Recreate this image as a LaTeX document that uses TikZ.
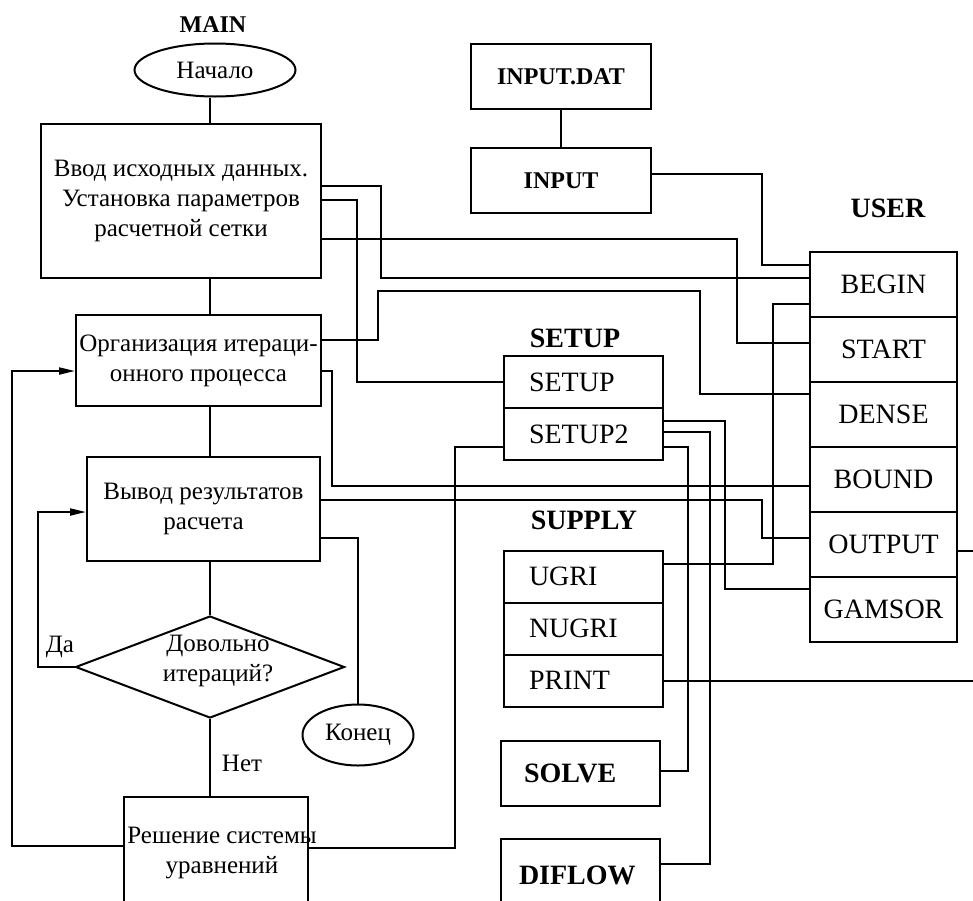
\documentclass[tikz,border=0pt]{standalone}
\usepackage{fontspec}
\setmainfont{Liberation Serif}
\usetikzlibrary{arrows.meta,calc,positioning,shapes.geometric}

\begin{document}
\begin{tikzpicture}[x=0.5pt, y=-0.5pt, line width=1pt, >={Triangle[length=8pt,width=3.5pt]},
    ru/.style={font=\fontsize{12.5}{15}\selectfont, align=center},
    box/.style={rectangle, draw, inner sep=0pt, ru},
    oval/.style={ellipse, draw, inner sep=0pt, ru},
    hdrsmall/.style={font=\fontsize{12}{14}\selectfont\bfseries},
    hdr/.style={font=\fontsize{14}{16}\selectfont\bfseries},
    cell/.style={rectangle, draw, inner sep=0pt, outer sep=0pt, inner xsep=12.5pt, text width=54.5pt, minimum height=26pt, align=left, font=\fontsize{14}{16}\selectfont},
    ucell/.style={rectangle, draw, inner sep=0pt, outer sep=0pt, minimum width=73.5pt, minimum height=32.5pt, font=\fontsize{14}{16}\selectfont}]
    \path[use as bounding box, clip] (0,0) rectangle (973,900);

    \node[hdrsmall] (mainlbl) at (213,25) {MAIN};
    \node[oval, minimum width=80.5pt, minimum height=26.5pt] (top) at (215,70) {Начало};
    \node[box, minimum width=140pt, minimum height=77pt] (inp) at (181,201) {Ввод исходных данных.\\Установка параметров\\расчетной сетки};
    \node[box, minimum width=122.5pt, minimum height=45.5pt] (iter) at (198.5,360.5) {Организация итераци-\\онного процесса};
    \node[box, minimum width=116.5pt, minimum height=52pt] (res) at (203.5,509) {Вывод результатов\\расчета};
    \node[diamond, draw, inner sep=0pt, minimum width=134.5pt, minimum height=51pt,
        label={[ru, xshift=4pt, yshift=3pt]center:Довольно\\итераций?}] (ask) at (210,667) {};
    \node[box, minimum width=92pt, minimum height=54pt,
        label={[ru, xshift=3pt, yshift=-1pt]center:Решение системы\\уравнений}] (sys) at (216,851) {};
    \node[oval, minimum width=55.5pt, minimum height=30.5pt] (stop) at (358,735) {Конец};
    \node[ru] (yes) at (60,647) {Да};
    \node[ru] (no) at (242,763) {Нет};

    \node[box, hdrsmall, minimum width=90pt, minimum height=32.5pt] (idat) at (561,76.5) {INPUT.DAT};
    \node[box, hdrsmall, minimum width=90pt, minimum height=32.5pt] (input) at (561,180.5) {INPUT};

    \node[hdr] (userlbl) at (888,208) {USER};
    \node[ucell] (ubegin) at (883.5,284.5) {BEGIN};
    \node[ucell, below=0pt of ubegin] (ustart) {START};
    \node[ucell, below=0pt of ustart] (udense) {DENSE};
    \node[ucell, below=0pt of udense] (ubound) {BOUND};
    \node[ucell, below=0pt of ubound] (uoutput) {OUTPUT};
    \node[ucell, below=0pt of uoutput] (ugamsor) {GAMSOR};

    \node[hdr] (setuplbl) at (575,338) {SETUP};
    \node[cell] (setup) at (583.5,382) {SETUP};
    \node[cell, below=0pt of setup] (setupb) {SETUP2};

    \node[hdr] (supplylbl) at (584,520) {SUPPLY};
    \node[cell] (ugri) at (583.5,576.5) {UGRI};
    \node[cell, below=0pt of ugri] (nugri) {NUGRI};
    \node[cell, below=0pt of nugri] (print) {PRINT};

    \node[cell, font=\fontsize{14}{16}\selectfont\bfseries, inner xsep=11.5pt, text width=56.5pt, minimum height=32.5pt] (solve) at (580.5,773.5) {SOLVE};
    \node[cell, font=\fontsize{14}{16}\selectfont\bfseries, inner xsep=9pt, text width=61.5pt, minimum height=36pt] (diflow) at (580.5,875) {DIFLOW};

    \draw (top.south -| ask) -- (inp.north -| ask);
    \draw (inp.south -| ask) -- (iter.north -| ask);
    \draw (iter.south -| ask) -- (res.north -| ask);
    \draw (res.south -| ask) -- (ask.north);
    \draw (ask.south) -- (ask.south |- sys.north);
    \draw[->] (ask.west) -| (38,512) -- (res.west |- 0,512);
    \draw[->] (sys.west |- 0,846) -| (12,371) -- (iter.west |- 0,371);
    \draw (sys.east |- 0,848) -| (455,447) -- (setupb.west |- 0,447);
    \draw (res.east |- 0,538) -| (stop.north);

    \draw (idat) -- (input);
    \draw (input.east |- 0,174) -| (762,265) -- (ubegin.west |- 0,265);
    \draw (inp.east |- 0,186) -| (381,278) -- (ubegin.west |- 0,278);
    \draw (inp.east |- 0,200) -| (357,382) -- (setup.west |- 0,382);
    \draw (inp.east |- 0,239) -| (737,343) -- (ustart.west |- 0,343);
    \draw (iter.east |- 0,340) -| (378,291) -| (700,394) -- (udense.west |- 0,394);
    \draw (iter.east |- 0,371) -| (332,486) -- (ubound.west |- 0,486);
    \draw (res.east |- 0,500) -| (762,538) -- (uoutput.west |- 0,538);
    \draw (ugri.east |- 0,564) -| (773,304) -- (ubegin.west |- 0,304);
    \draw (setupb.east |- 0,421) -| (725,589) -- (ugamsor.west |- 0,589);
    \draw (setupb.east |- 0,432) -| (710,864) -- (diflow.east |- 0,864);
    \draw (setupb.east |- 0,447) -| (688,771) -- (solve.east |- 0,771);

    \coordinate (rimout) at (973,551);
    \coordinate (rimprint) at (973,681);
    \draw (uoutput.east |- rimout) -- (rimout);
    \draw (print.east |- rimprint) -- (rimprint);
\end{tikzpicture}
\end{document}
